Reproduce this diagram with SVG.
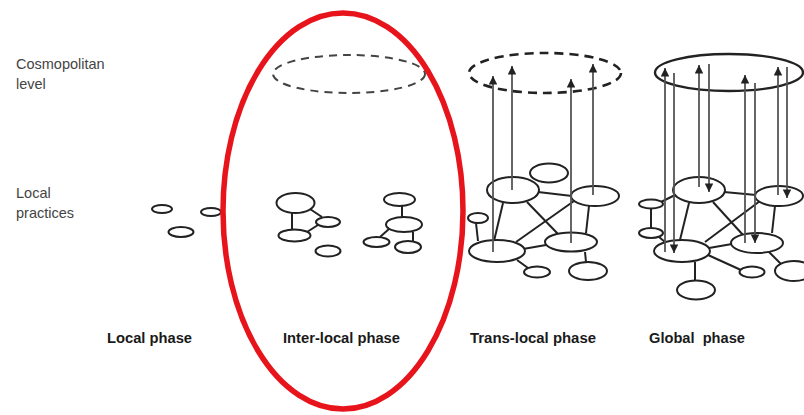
<svg xmlns="http://www.w3.org/2000/svg" width="804" height="415" viewBox="0 0 804 415">
  <style>
    .side { font-family: "Liberation Sans", Arial, sans-serif; font-size: 14.5px; fill: #444; }
    .phase { font-family: "Liberation Sans", Arial, sans-serif; font-size: 14.5px; font-weight: bold; fill: #1a1a1a; }
    .node { fill: #fff; stroke: #222; stroke-width: 2; }
    .edge { stroke: #222; stroke-width: 2; fill: none; }
    .flow { stroke: #555; stroke-width: 1.8; fill: none; marker-end: url(#head); }
    .cosmo-dash { fill: none; stroke: #444; stroke-width: 2; stroke-dasharray: 8 6; }
    .cosmo-dash-bold { fill: none; stroke: #222; stroke-width: 2.6; stroke-dasharray: 9 6; }
    .cosmo-solid { fill: none; stroke: #222; stroke-width: 2.4; }
  </style>
  <defs>
    <marker id="head" viewBox="0 0 10 10" refX="10" refY="5" markerWidth="12" markerHeight="8.5" markerUnits="userSpaceOnUse" orient="auto">
      <path d="M0,0 L10,5 L0,10 z" fill="#222"/>
    </marker>
  </defs>
  <rect width="804" height="415" fill="#fff"/>

  <!-- row labels -->
  <g id="row-labels">
    <text class="side" x="16" y="69">Cosmopolitan</text>
    <text class="side" x="16" y="89">level</text>
    <text class="side" x="16" y="198">Local</text>
    <text class="side" x="16" y="218">practices</text>
  </g>

  <!-- phase captions -->
  <g id="phase-labels">
    <text class="phase" x="107" y="343" textLength="85" lengthAdjust="spacingAndGlyphs">Local phase</text>
    <text class="phase" x="283" y="343" textLength="117" lengthAdjust="spacingAndGlyphs">Inter-local phase</text>
    <text class="phase" x="470" y="343" textLength="126" lengthAdjust="spacingAndGlyphs">Trans-local phase</text>
    <text class="phase" x="649" y="343" textLength="96" lengthAdjust="spacingAndGlyphs" xml:space="preserve">Global  phase</text>
  </g>

  <!-- cosmopolitan level rings -->
  <g id="cosmo-levels">
    <ellipse id="cosmo-interlocal" class="cosmo-dash" cx="349" cy="74" rx="76" ry="19"/>
    <ellipse id="cosmo-translocal" class="cosmo-dash-bold" cx="545" cy="73" rx="76" ry="20"/>
    <ellipse id="cosmo-global" class="cosmo-solid" cx="729" cy="72.5" rx="74" ry="18.5"/>
  </g>

  <!-- connectors -->
  <g id="connectors">
    <!-- inter-local clusters -->
    <line class="edge" x1="292" y1="213" x2="292" y2="230"/>
    <line class="edge" x1="310" y1="209" x2="322" y2="217"/>
    <line class="edge" x1="307" y1="232" x2="318" y2="225"/>
    <line class="edge" x1="402" y1="206" x2="402" y2="217"/>
    <line class="edge" x1="389" y1="229" x2="380" y2="237"/>
    <line class="edge" x1="413" y1="232" x2="413" y2="241"/>
    <!-- trans-local network -->
    <line class="edge" x1="538" y1="192" x2="572" y2="196"/>
    <line class="edge" x1="503" y1="203" x2="494" y2="241"/>
    <line class="edge" x1="527" y1="202" x2="558" y2="234"/>
    <line class="edge" x1="574" y1="201" x2="516" y2="242"/>
    <line class="edge" x1="589" y1="206" x2="586" y2="233"/>
    <line class="edge" x1="476" y1="223" x2="478" y2="241"/>
    <line class="edge" x1="523" y1="249" x2="546" y2="245"/>
    <line class="edge" x1="517" y1="260" x2="528" y2="268"/>
    <line class="edge" x1="585" y1="252" x2="586" y2="262"/>
    <!-- global network -->
    <line class="edge" x1="675" y1="195" x2="661" y2="202"/>
    <line class="edge" x1="651" y1="209" x2="651" y2="228"/>
    <line class="edge" x1="659" y1="237" x2="665" y2="242"/>
    <line class="edge" x1="689" y1="203" x2="680" y2="240"/>
    <line class="edge" x1="724" y1="192" x2="756" y2="195"/>
    <line class="edge" x1="713" y1="202" x2="743" y2="235"/>
    <line class="edge" x1="760" y1="201" x2="705" y2="242"/>
    <line class="edge" x1="775" y1="206" x2="772" y2="233"/>
    <line class="edge" x1="709" y1="248" x2="732" y2="244"/>
    <line class="edge" x1="708" y1="255" x2="741" y2="270"/>
    <line class="edge" x1="768" y1="251" x2="781" y2="264"/>
    <line class="edge" x1="695" y1="262" x2="695" y2="281"/>
  </g>

  <!-- local phase -->
  <g id="local-phase">
    <ellipse id="lp-a" class="node" cx="162" cy="209" rx="10" ry="4"/>
    <ellipse id="lp-b" class="node" cx="211" cy="212" rx="10" ry="4"/>
    <ellipse id="lp-c" class="node" cx="181" cy="232" rx="12.5" ry="5"/>
  </g>

  <!-- inter-local phase -->
  <g id="interlocal-phase">
    <ellipse id="il-a" class="node" cx="295.5" cy="203" rx="19" ry="10"/>
    <ellipse id="il-b" class="node" cx="328" cy="222" rx="12" ry="5"/>
    <ellipse id="il-c" class="node" cx="294.5" cy="235.5" rx="16" ry="6"/>
    <ellipse id="il-d" class="node" cx="328" cy="251" rx="12.5" ry="5.5"/>
    <ellipse id="il-e" class="node" cx="399.5" cy="199.5" rx="15.5" ry="6.5"/>
    <ellipse id="il-f" class="node" cx="404" cy="224.5" rx="18" ry="7.5"/>
    <ellipse id="il-g" class="node" cx="376.5" cy="242" rx="13" ry="5"/>
    <ellipse id="il-h" class="node" cx="408" cy="247" rx="13" ry="6"/>
  </g>

  <!-- trans-local phase -->
  <g id="translocal-phase">
    <ellipse id="tl-1" class="node" cx="513" cy="190" rx="26" ry="13"/>
    <ellipse id="tl-2" class="node" cx="549" cy="173" rx="19" ry="9.5"/>
    <ellipse id="tl-3" class="node" cx="595" cy="196" rx="24" ry="10"/>
    <ellipse id="tl-4" class="node" cx="478" cy="218" rx="10" ry="5"/>
    <ellipse id="tl-5" class="node" cx="497" cy="251" rx="28" ry="11"/>
    <ellipse id="tl-6" class="node" cx="571" cy="242" rx="26" ry="9.5"/>
    <ellipse id="tl-7" class="node" cx="537" cy="272" rx="13" ry="5.5"/>
    <ellipse id="tl-8" class="node" cx="588" cy="271" rx="19" ry="9"/>
  </g>

  <!-- global phase -->
  <g id="global-phase">
    <ellipse id="gl-1" class="node" cx="699" cy="190" rx="26" ry="13"/>
    <ellipse id="gl-2" class="node" cx="779" cy="196" rx="24" ry="10"/>
    <ellipse id="gl-3" class="node" cx="651" cy="204" rx="12" ry="4.5"/>
    <ellipse id="gl-4" class="node" cx="651" cy="233" rx="12" ry="5"/>
    <ellipse id="gl-5" class="node" cx="682" cy="251" rx="28" ry="11"/>
    <ellipse id="gl-6" class="node" cx="757" cy="243" rx="26" ry="10"/>
    <ellipse id="gl-7" class="node" cx="752" cy="272" rx="12.5" ry="5.5"/>
    <ellipse id="gl-8" class="node" cx="794" cy="271" rx="19" ry="10"/>
    <ellipse id="gl-9" class="node" cx="696" cy="290" rx="19" ry="9.5"/>
  </g>

  <!-- vertical flows between local practices and cosmopolitan level -->
  <g id="flows">
    <line class="flow" x1="493" y1="252" x2="493" y2="76"/>
    <line class="flow" x1="512" y1="190" x2="512" y2="66"/>
    <line class="flow" x1="571" y1="243" x2="571" y2="79"/>
    <line class="flow" x1="593" y1="195" x2="593" y2="64"/>

    <line class="flow" x1="665" y1="252" x2="665" y2="68"/>
    <line class="flow" x1="674" y1="73" x2="674" y2="253"/>
    <line class="flow" x1="699" y1="187" x2="699" y2="65"/>
    <line class="flow" x1="709" y1="64" x2="709" y2="192"/>
    <line class="flow" x1="745" y1="243" x2="745" y2="75"/>
    <line class="flow" x1="755" y1="83" x2="755" y2="243"/>
    <line class="flow" x1="778" y1="195" x2="778" y2="67"/>
    <line class="flow" x1="787" y1="67" x2="787" y2="198"/>
  </g>

  <!-- highlight around the inter-local phase -->
  <ellipse id="highlight" cx="343" cy="211" rx="120" ry="198" fill="none" stroke="#e8141c" stroke-width="5.5"/>
</svg>
